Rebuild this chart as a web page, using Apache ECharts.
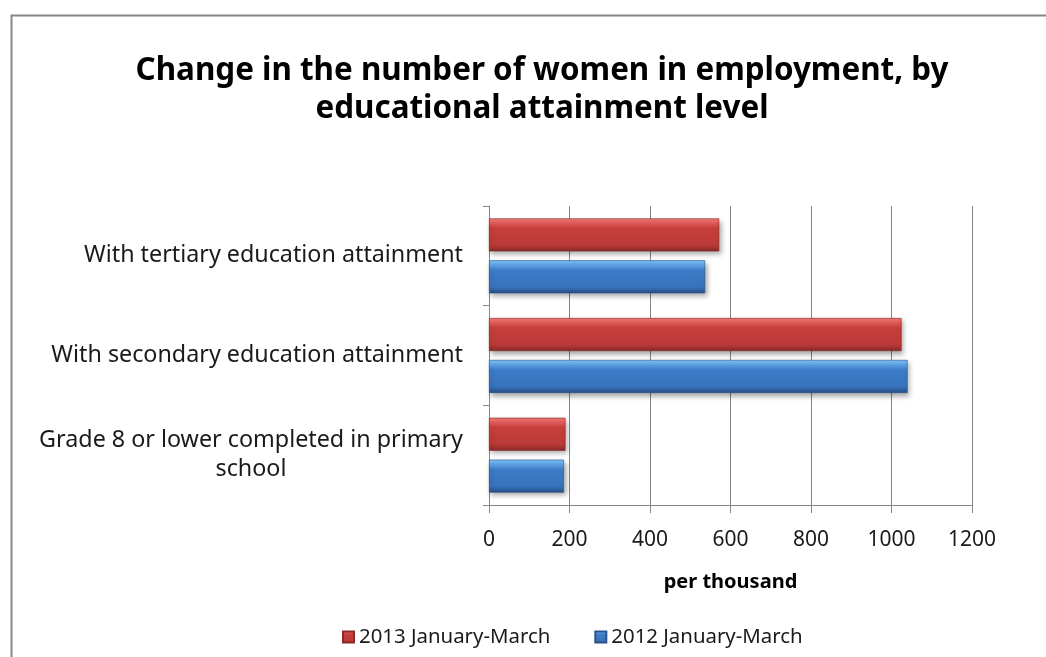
<!DOCTYPE html>
<html>
<head>
<meta charset="utf-8">
<style>
  html, body { margin: 0; padding: 0; background: #ffffff; }
  #chart { width: 1046px; height: 657px; }
</style>
<script src="https://cdn.jsdelivr.net/npm/echarts@6/dist/echarts.min.js"></script>
</head>
<body>
<div id="chart"></div>
<script>
// Categories from bottom to top of the vertical axis
const categories = [
  'Grade 8 or lower completed in primary\nschool',
  'With secondary education attainment',
  'With tertiary education attainment'
];
// Women in employment, thousands
const values2013 = [190, 1025, 572];
const values2012 = [186, 1040, 537];
const seriesNames = ['2013 January-March', '2012 January-March'];
const xTicks = { min: 0, max: 1200, step: 200 };

const FONT = '"Noto Sans", "DejaVu Sans", sans-serif';
const LABEL_SIZE = 23.3;

// width of a text line, used to centre the second line of a wrapped label
function textWidth(str, size, weight) {
  const ctx = document.createElement('canvas').getContext('2d');
  ctx.font = (weight || 'normal') + ' ' + size + 'px ' + FONT;
  return Math.ceil(ctx.measureText(str).width);
}

// vertical shading that gives the bars a bevelled, raised look
function bevel(stops) {
  const offsets = [0, 0.08, 0.25, 0.3, 0.8, 0.92, 1];
  return new echarts.graphic.LinearGradient(0, 0, 0, 1,
    stops.map((c, i) => ({ offset: offsets[i], color: c })));
}
const redFill = bevel(['#f27573', '#ee6b68', '#d04845', '#c63f3c', '#bb3a37', '#9e312f', '#822927']);
const blueFill = bevel(['#7ec4f8', '#6cb6f2', '#4a8ad4', '#3d7cc8', '#3873bc', '#2e5f9c', '#244b7e']);

const chart = echarts.init(document.getElementById('chart'), null, { renderer: 'canvas' });

const barStyle = (fill, edge) => ({
  color: fill,
  borderColor: edge,
  borderWidth: 0.6,
  shadowColor: 'rgba(0,0,0,0.35)',
  shadowBlur: 5,
  shadowOffsetX: 2,
  shadowOffsetY: 3
});

const option = {
  backgroundColor: '#ffffff',
  animation: false,
  textStyle: { fontFamily: FONT },
  title: {
    text: 'Change in the number of women in employment, by\neducational attainment level',
    left: 537,
    textAlign: 'center',
    top: 47,
    textStyle: {
      fontFamily: FONT,
      fontSize: 31.4,
      fontWeight: 'bold',
      color: '#000000',
      lineHeight: 38
    }
  },
  legend: {
    data: seriesNames,
    left: 342,
    top: 627,
    padding: 0,
    icon: 'rect',
    itemWidth: 11,
    itemHeight: 11,
    itemGap: 44,
    textStyle: { fontFamily: FONT, fontSize: 20.4, color: '#1a1a1a' }
  },
  grid: {
    left: 489,
    right: 74,
    top: 206,
    bottom: 152,
    containLabel: false
  },
  xAxis: {
    type: 'value',
    min: xTicks.min,
    max: xTicks.max,
    interval: xTicks.step,
    name: 'per thousand',
    nameLocation: 'middle',
    nameGap: 67,
    nameTextStyle: { fontFamily: FONT, fontSize: 20, fontWeight: 'bold', color: '#000000' },
    axisLine: { show: true, lineStyle: { color: '#868686', width: 1 } },
    axisTick: { show: true, length: 8, lineStyle: { color: '#868686' } },
    axisLabel: {
      fontFamily: FONT, fontSize: 21, color: '#1a1a1a', margin: 25,
      formatter: (v) => String(v)
    },
    splitLine: { show: true, lineStyle: { color: '#868686', width: 1 } }
  },
  yAxis: {
    type: 'category',
    data: categories,
    axisLine: { show: true, lineStyle: { color: '#868686', width: 1 } },
    axisTick: { show: true, length: 6, lineStyle: { color: '#868686' } },
    axisLabel: {
      fontFamily: FONT,
      fontSize: LABEL_SIZE,
      color: '#1a1a1a',
      margin: 26,
      lineHeight: 29,
      formatter: function (value) {
        const lines = value.split('\n');
        if (lines.length === 1) return value;
        return '{a|' + lines[0] + '}\n{b|' + lines[1] + '}';
      },
      rich: {
        a: { fontFamily: FONT, fontSize: LABEL_SIZE, color: '#1a1a1a', lineHeight: 29 },
        b: {
          fontFamily: FONT, fontSize: LABEL_SIZE, color: '#1a1a1a', lineHeight: 29,
          align: 'center',
          width: textWidth(categories[0].split('\n')[0], LABEL_SIZE)
        }
      }
    }
  },
  series: [
    {
      name: seriesNames[0],
      type: 'bar',
      data: values2013,
      barWidth: 33,
      barGap: '27%',
      itemStyle: barStyle(redFill, '#8a2b29')
    },
    {
      name: seriesNames[1],
      type: 'bar',
      data: values2012,
      barWidth: 33,
      barGap: '27%',
      itemStyle: barStyle(blueFill, '#2a5489')
    }
  ],
  graphic: [
    {
      // chart frame: top and left edges visible, the rest runs off the page
      type: 'rect',
      left: 9,
      top: 13,
      shape: { width: 1100, height: 700 },
      style: { fill: 'none', stroke: '#878787', lineWidth: 2 },
      silent: true,
      z: -1
    }
  ]
};

chart.setOption(option);
</script>
</body>
</html>
